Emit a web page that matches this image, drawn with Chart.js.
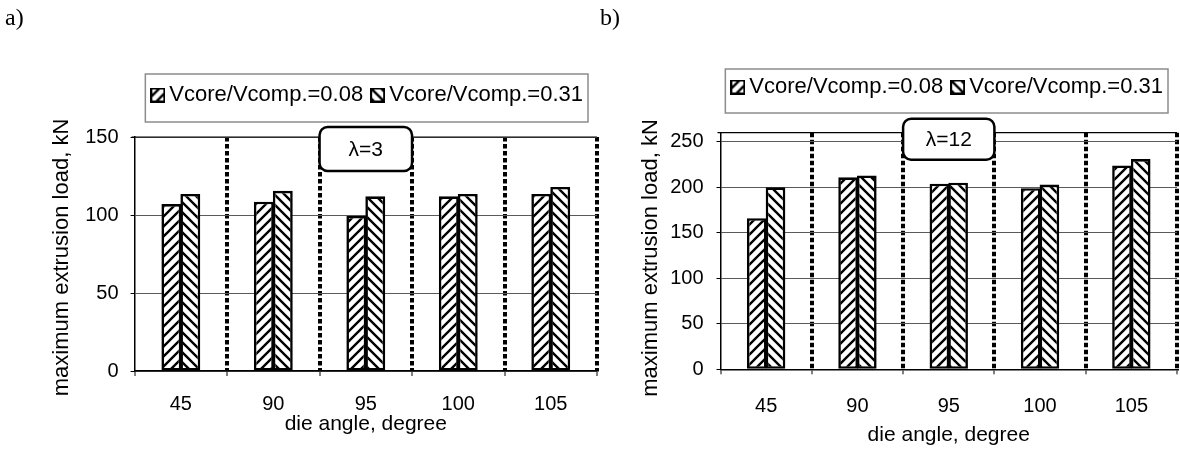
<!DOCTYPE html>
<html>
<head>
<meta charset="utf-8">
<script src="https://cdn.jsdelivr.net/npm/chart.js@4.4.0/dist/chart.umd.min.js"></script>
<style>
  html, body { margin: 0; padding: 0; background: #fff; }
  #wrapA { position: absolute; left: 0; top: 0; width: 600px; height: 450px; }
  #wrapB { position: absolute; left: 594px; top: 0; width: 586px; height: 450px; }
</style>
</head>
<body>
<div id="wrapA"><canvas id="chartA" width="600" height="450"></canvas></div>
<div id="wrapB"><canvas id="chartB" width="586" height="450"></canvas></div>
<script>
var dieAngles = ['45', '90', '95', '100', '105'];
var seriesNames = ['Vcore/Vcomp.=0.08', 'Vcore/Vcomp.=0.31'];

// a) lambda = 3
var loadA008 = [107, 108.5, 99.5, 112, 113.5];
var loadA031 = [113.5, 115.5, 112, 113.5, 118];
var yMaxA = 150;

// b) lambda = 12
var loadB008 = [166, 211, 204, 199, 224];
var loadB031 = [200, 213, 205, 203, 231];
var yMaxB = 260;

var yStep = 50;
var yTitle = 'maximum extrusion load, kN';
var xTitle = 'die angle, degree';

var sans = '"Liberation Sans", Arial, sans-serif';
Chart.defaults.font.family = sans;
Chart.defaults.color = '#000';

// hatch tiles: '/' for 0.08, '\' for 0.31
function hatchTile(dir) {
  var s = 10;
  var c = document.createElement('canvas');
  c.width = s; c.height = s;
  var g = c.getContext('2d');
  g.fillStyle = '#fff';
  g.fillRect(0, 0, s, s);
  g.strokeStyle = '#000';
  g.lineWidth = 2.4;
  g.beginPath();
  if (dir === '/') {
    g.moveTo(0, s); g.lineTo(s, 0);
    g.moveTo(-2, 2); g.lineTo(2, -2);
    g.moveTo(s - 2, s + 2); g.lineTo(s + 2, s - 2);
  } else {
    g.moveTo(0, 0); g.lineTo(s, s);
    g.moveTo(s - 2, -2); g.lineTo(s + 2, 2);
    g.moveTo(-2, s - 2); g.lineTo(2, s + 2);
  }
  g.stroke();
  return c;
}

function swatch(tile) {
  var c = document.createElement('canvas');
  c.width = 15; c.height = 15;
  var g = c.getContext('2d');
  g.fillStyle = g.createPattern(tile, 'repeat');
  g.fillRect(0, 0, 15, 15);
  g.strokeStyle = '#000';
  g.lineWidth = 2;
  g.strokeRect(1, 1, 13, 13);
  return c;
}

var tiles = [hatchTile('/'), hatchTile('\\')];
var swatches = [swatch(tiles[0]), swatch(tiles[1])];

// frame round legend, lambda box, top edge, y title
var decor = {
  id: 'decor',
  afterDraw: function(chart, args, opts) {
    var ctx = chart.ctx, area = chart.chartArea, xs = chart.scales.x;
    ctx.save();

    ctx.strokeStyle = '#000';
    ctx.lineWidth = 1.2;
    ctx.beginPath();
    ctx.moveTo(area.left - 3, area.top);
    ctx.lineTo(area.right, area.top);
    ctx.stroke();

    var hb = chart.legend.legendHitBoxes;
    if (hb && hb.length) {
      var first = hb[0], last = hb[hb.length - 1];
      var cy = first.top + first.height / 2;
      var fl = first.left - 12, fr = last.left + last.width + 5;
      ctx.strokeStyle = '#8c8c8c';
      ctx.lineWidth = 1.5;
      ctx.strokeRect(fl, cy - opts.frameUp, fr - fl, opts.frameUp + opts.frameDown);
    }

    var half = (xs.getPixelForValue(1) - xs.getPixelForValue(0)) / 2;
    var cx = xs.getPixelForValue(opts.boxAt);
    var bx = cx - half, by = area.top + opts.boxTop, bw = 2 * half, bh = opts.boxHeight;
    ctx.beginPath();
    ctx.roundRect(bx, by, bw, bh, 8);
    ctx.fillStyle = '#fff';
    ctx.fill();
    ctx.lineWidth = 2.5;
    ctx.strokeStyle = '#000';
    ctx.stroke();
    ctx.fillStyle = '#000';
    ctx.font = '21px ' + sans;
    ctx.textAlign = 'center';
    ctx.textBaseline = 'middle';
    ctx.fillText(opts.label, cx, by + bh / 2 + 1);

    ctx.translate(opts.yTitleX, (area.top + area.bottom) / 2 + opts.yTitleShift);
    ctx.rotate(-Math.PI / 2);
    ctx.font = '22px ' + sans;
    ctx.fillText(yTitle, 0, 0);
    ctx.restore();
  }
};

function makeChart(id, v008, v031, cfg) {
  return new Chart(document.getElementById(id), {
    type: 'bar',
    data: {
      labels: dieAngles,
      datasets: [
        { label: seriesNames[0], data: v008 },
        { label: seriesNames[1], data: v031 }
      ].map(function(ds, i) {
        ds.backgroundColor = document.createElement('canvas').getContext('2d').createPattern(tiles[i], 'repeat');
        ds.borderColor = '#000';
        ds.borderWidth = 2.6;
        ds.borderSkipped = false;
        ds.categoryPercentage = 0.41;
        ds.barPercentage = 1.05;
        return ds;
      })
    },
    options: {
      responsive: false,
      animation: false,
      layout: { padding: { left: cfg.padLeft, right: 3, top: 0, bottom: 0 } },
      plugins: {
        title: {
          display: true, text: cfg.tag, align: 'start',
          font: { family: '"Liberation Serif", "Times New Roman", serif', size: 24, weight: 'normal' },
          padding: { top: 4.6, bottom: cfg.tagGap }
        },
        subtitle: {
          display: true, text: '', weight: 500,
          font: { size: 10, lineHeight: 1 },
          padding: { top: cfg.spacer, bottom: 0 }
        },
        legend: {
          position: 'top', align: 'end',
          labels: {
            usePointStyle: true, pointStyleWidth: 1, padding: 14,
            font: { size: 22 }, color: '#000',
            generateLabels: function(chart) {
              var items = Chart.defaults.plugins.legend.labels.generateLabels(chart);
              items.forEach(function(it) { it.pointStyle = swatches[it.datasetIndex]; });
              return items;
            }
          }
        },
        tooltip: { enabled: false },
        decor: cfg.decor
      },
      scales: {
        x: {
          grid: {
            offset: true, lineWidth: 4, tickLength: 5, tickWidth: 1, tickColor: '#000',
            color: function(c) { return c.index === 0 ? 'rgba(0,0,0,0)' : '#000'; }
          },
          border: { color: '#000', width: 1.5, dash: [4.5, 2.5] },
          ticks: { font: { size: 20 }, padding: cfg.xTickPad, color: '#000' },
          title: { display: true, text: xTitle, font: { size: 21 }, padding: { top: 0, bottom: cfg.xTitlePad }, color: '#000' },
          afterFit: function(s) { s.height = cfg.xHeight; }
        },
        y: {
          min: 0, max: cfg.yMax,
          grid: { color: '#5a5a5a', lineWidth: 1, tickLength: 4, tickColor: '#000' },
          border: { color: '#000', width: 1.5 },
          ticks: { stepSize: yStep, includeBounds: false, font: { size: 20 }, padding: cfg.yTickPad, color: '#000' },
          afterFit: function(s) { s.width = cfg.yWidth; }
        }
      }
    },
    plugins: [decor]
  });
}

makeChart('chartA', loadA008, loadA031, {
  tag: 'a)', padLeft: 5, tagGap: 36.6, spacer: 11, yMax: yMaxA,
  xHeight: 79, xTickPad: 16, xTitlePad: 13.4, yWidth: 129.6, yTickPad: 12,
  decor: { frameUp: 21, frameDown: 27, boxAt: 2, boxTop: -10, boxHeight: 44, label: 'λ=3', yTitleX: 61.5, yTitleShift: 3.5 }
});

makeChart('chartB', loadB008, loadB031, {
  tag: 'b)', padLeft: 6, tagGap: 28.6, spacer: 14.7, yMax: yMaxB,
  xHeight: 80.7, xTickPad: 20, xTitlePad: 2.4, yWidth: 120.5, yTickPad: 13,
  decor: { frameUp: 18, frameDown: 26, boxAt: 2, boxTop: -14, boxHeight: 41, label: 'λ=12', yTitleX: 56.5, yTitleShift: 7 }
});
</script>
</body>
</html>
